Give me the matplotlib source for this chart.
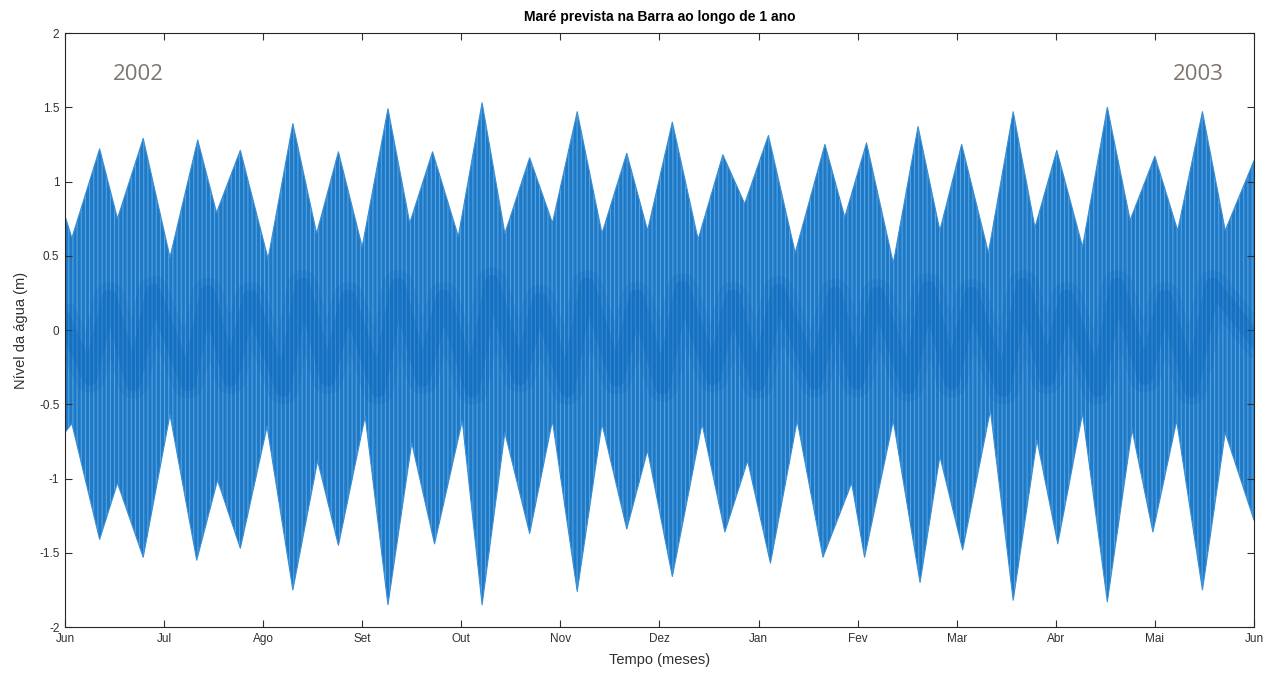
import numpy as np
import matplotlib
matplotlib.use('Agg')
from matplotlib import pyplot as plt

# envelope of the predicted tide (t in months from 1 Jun 2002)
t_high = [0.00, 0.07, 0.35, 0.53, 0.79, 1.06, 1.34, 1.53, 1.77, 2.05, 2.30, 2.54, 2.76,
          3.00, 3.26, 3.48, 3.71, 3.97, 4.21, 4.44, 4.69, 4.92, 5.17, 5.42, 5.67, 5.88,
          6.13, 6.39, 6.64, 6.86, 7.10, 7.37, 7.67, 7.87, 8.09, 8.36, 8.61, 8.83, 9.05,
          9.32, 9.57, 9.79, 10.01, 10.27, 10.52, 10.75, 11.00, 11.23, 11.48, 11.71, 12.00]
high = [0.77, 0.62, 1.22, 0.75, 1.29, 0.49, 1.28, 0.79, 1.21, 0.48, 1.39, 0.65, 1.20,
        0.56, 1.49, 0.72, 1.20, 0.63, 1.53, 0.65, 1.16, 0.72, 1.47, 0.65, 1.19, 0.67,
        1.40, 0.61, 1.18, 0.85, 1.31, 0.52, 1.25, 0.76, 1.26, 0.45, 1.37, 0.67, 1.25,
        0.52, 1.47, 0.69, 1.21, 0.56, 1.50, 0.74, 1.17, 0.67, 1.47, 0.67, 1.14]

t_low = [0.00, 0.07, 0.35, 0.53, 0.79, 1.06, 1.33, 1.54, 1.77, 2.04, 2.30, 2.55, 2.76,
         3.03, 3.26, 3.50, 3.73, 4.01, 4.21, 4.44, 4.69, 4.92, 5.17, 5.42, 5.67, 5.88,
         6.13, 6.43, 6.66, 6.89, 7.12, 7.39, 7.65, 7.94, 8.07, 8.36, 8.63, 8.83, 9.06,
         9.34, 9.57, 9.81, 10.02, 10.27, 10.52, 10.77, 10.98, 11.22, 11.48, 11.71, 12.00]
low = [-0.69, -0.63, -1.41, -1.03, -1.53, -0.57, -1.55, -1.01, -1.47, -0.65, -1.75, -0.88, -1.45,
       -0.58, -1.85, -0.76, -1.44, -0.61, -1.85, -0.69, -1.37, -0.61, -1.76, -0.63, -1.34, -0.81,
       -1.66, -0.63, -1.36, -0.88, -1.57, -0.61, -1.53, -1.03, -1.53, -0.61, -1.70, -0.85, -1.48,
       -0.54, -1.82, -0.74, -1.44, -0.56, -1.83, -0.67, -1.36, -0.61, -1.75, -0.69, -1.28]

# darker zigzag near mean level, where the tidal curves overlap
t_dark = [0.00, 0.25, 0.45, 0.69, 0.89, 1.24, 1.44, 1.67, 1.87, 2.20, 2.40, 2.65, 2.86,
          3.16, 3.36, 3.61, 3.82, 4.11, 4.31, 4.59, 4.79, 5.07, 5.27, 5.57, 5.77, 6.03,
          6.23, 6.54, 6.74, 6.99, 7.20, 7.57, 7.77, 7.99, 8.20, 8.51, 8.71, 8.95, 9.15,
          9.47, 9.67, 9.91, 10.11, 10.42, 10.62, 10.90, 11.10, 11.37, 11.58, 12.00]
dark = [0.05, -0.32, 0.22, -0.36, 0.26, -0.36, 0.25, -0.33, 0.22, -0.40, 0.30, -0.33, 0.22,
        -0.40, 0.30, -0.33, 0.22, -0.40, 0.32, -0.32, 0.20, -0.40, 0.30, -0.33, 0.22, -0.38,
        0.28, -0.32, 0.22, -0.36, 0.26, -0.35, 0.24, -0.35, 0.24, -0.38, 0.28, -0.35, 0.24,
        -0.40, 0.30, -0.33, 0.22, -0.40, 0.30, -0.32, 0.22, -0.40, 0.30, -0.05]

months = ['Jun', 'Jul', 'Ago', 'Set', 'Out', 'Nov', 'Dez', 'Jan', 'Fev', 'Mar', 'Abr', 'Mai', 'Jun']
yticks = [-2, -1.5, -1, -0.5, 0, 0.5, 1, 1.5, 2]
ytick_labels = ['-2', '-1.5', '-1', '-0.5', '0', '0.5', '1', '1.5', '2']

plt.rcParams['font.family'] = ['Liberation Sans', 'DejaVu Sans']
plt.rcParams['hatch.linewidth'] = 0.7

fig = plt.figure(figsize=(12.71, 6.78), dpi=100)
ax = fig.add_axes([0.0511, 0.0752, 0.9355, 0.8761])

# combined polygon: top along the highs, bottom along the lows
t_all = np.union1d(t_high, t_low)
top = np.interp(t_all, t_high, high)
bot = np.interp(t_all, t_low, low)
ax.fill_between(t_all, bot, top, facecolor='#2079c6', edgecolor='#5aa9e3',
                hatch='||||', linewidth=0)
ax.fill_between(t_all, bot, top, facecolor='none', edgecolor='#3a8fd4', linewidth=0.8)
# soft dark band, drawn twice for a diffuse edge
ax.plot(t_dark, dark, color='#0b66bb', lw=22, alpha=0.18, solid_joinstyle='round')
ax.plot(t_dark, dark, color='#0b66bb', lw=11, alpha=0.3, solid_joinstyle='round')

ax.set_xlim(0, 12)
ax.set_ylim(-2, 2)
ax.set_xticks(range(13))
ax.set_xticklabels(months)
ax.set_yticks(yticks)
ax.set_yticklabels(ytick_labels)
ax.tick_params(direction='in', top=True, right=True, length=5, width=0.8,
               labelsize=8.5, colors='#303030', pad=4)
for s in ax.spines.values():
    s.set_color('#262626')
    s.set_linewidth(0.8)

ax.set_title('Maré prevista na Barra ao longo de 1 ano', fontsize=10, fontweight='bold', pad=9)
ax.set_xlabel('Tempo (meses)', fontsize=10.5, color='#303030', labelpad=6)
ax.set_ylabel('Nível da água (m)', fontsize=10.5, color='#303030', labelpad=8)

ax.text(0.04, 0.93, '2002', transform=ax.transAxes, fontsize=16, color='#7d7570',
        family=['Open Sans', 'DejaVu Sans'], ha='left', va='center')
ax.text(0.975, 0.93, '2003', transform=ax.transAxes, fontsize=16, color='#7d7570',
        family=['Open Sans', 'DejaVu Sans'], ha='right', va='center')

fig.savefig('out.png', dpi=100)
